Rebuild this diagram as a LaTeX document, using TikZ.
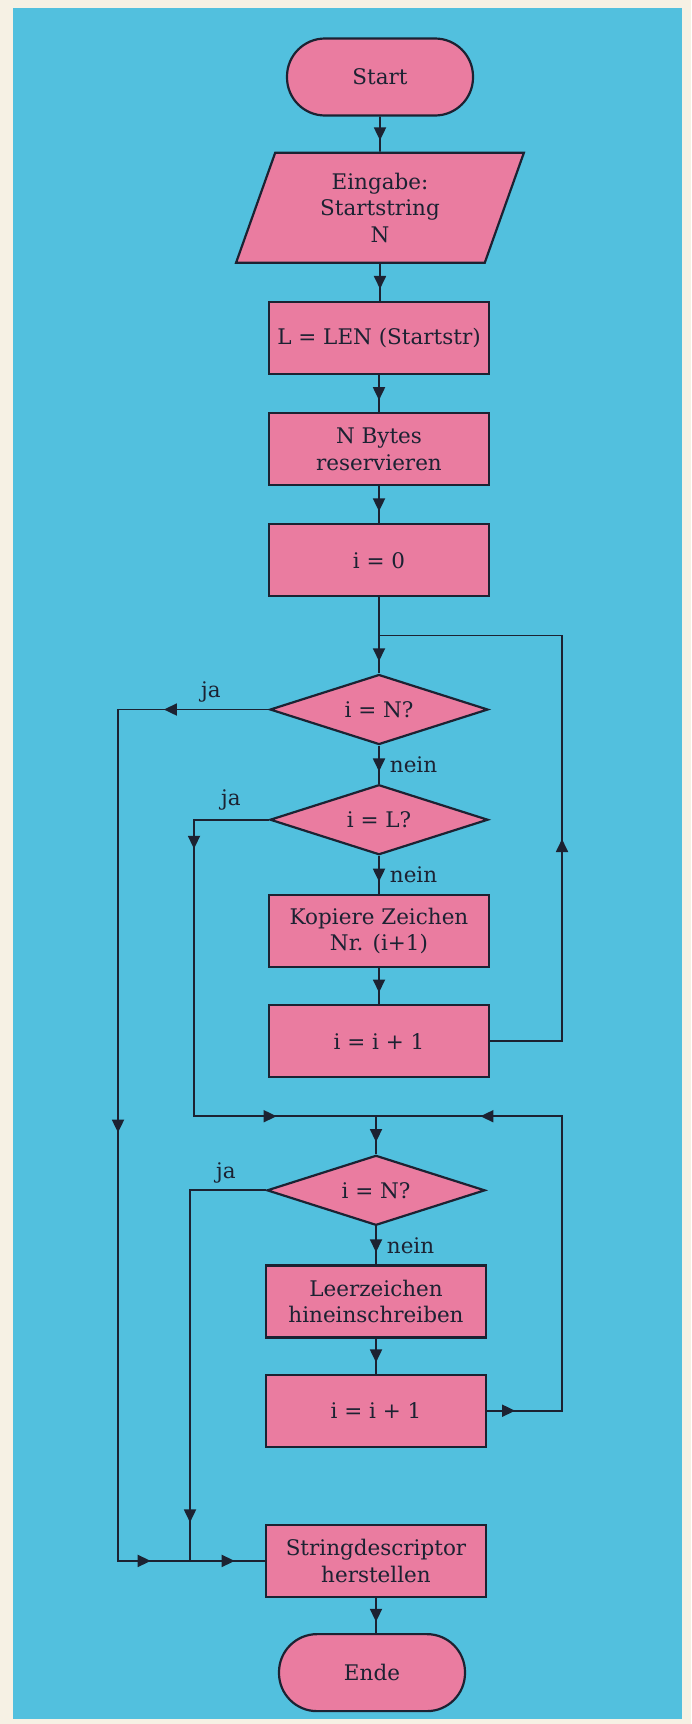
\documentclass[tikz,border=0pt]{standalone}
\usepackage{fontspec}
\setmainfont{DejaVu Serif}
\usepackage{tikz}
\usetikzlibrary{arrows.meta,positioning,calc,shapes.geometric,decorations.markings}
\definecolor{ink}{RGB}{28,34,50}
\definecolor{sky}{RGB}{82,192,222}
\definecolor{rose}{RGB}{234,124,160}
\definecolor{cream}{RGB}{246,241,228}
\tikzset{
  blk/.style={draw=ink,fill=rose,line width=2.2pt,text=ink,align=center,font=\fontsize{21.5}{26.5}\selectfont},
  term/.style={blk,rounded corners=38pt,minimum width=186pt,minimum height=77pt},
  proc/.style={blk,minimum width=220pt,minimum height=72pt,inner sep=4pt},
  io/.style={blk,trapezium,trapezium left angle=72.6,trapezium right angle=107.4,trapezium stretches=true,minimum width=288pt,minimum height=110pt,inner sep=2pt},
  test/.style={blk,diamond,aspect=3,minimum width=218pt,minimum height=70pt,inner sep=0pt},
  lbl/.style={text=ink,inner sep=2pt,font=\fontsize{21.5}{26.5}\selectfont},
  wire/.style={ink,line width=1.8pt},
  tipat/.style={postaction={decorate,decoration={markings,mark=at position #1 with {\arrow{Triangle[length=13pt,width=12pt]}}}}},
  flow/.style={wire,tipat=0.68},
}
\begin{document}
\begin{tikzpicture}[x=1pt,y=-1pt]
\fill[cream] (0,0) rectangle (691,1724);
\fill[sky] (13,8) rectangle (682,1719);
\useasboundingbox (0,0) rectangle (691,1724);
\node[term] (start) at (380,77) {Start};
\node[io,below=35pt of start] (input) {Eingabe:\\Startstring\\N};
\node[proc,below=37pt of input,xshift=-1pt] (len) {L = LEN (Startstr)};
\node[proc,below=37pt of len] (bytes) {N Bytes\\reservieren};
\node[proc,below=37pt of bytes] (izero) {i = 0};
\node[test,below=76pt of izero] (ifN) {i = N?};
\node[test,below=38pt of ifN] (ifL) {i = L?};
\node[proc,below=38pt of ifL] (copy) {Kopiere Zeichen\\Nr. (i+1)};
\node[proc,below=36pt of copy] (incA) {i = i + 1};
\node[test,below=76pt of incA,xshift=-3pt] (ifNb) {i = N?};
\node[proc,below=38pt of ifNb] (blank) {Leerzeichen\\hineinschreiben};
\node[proc,below=35pt of blank] (incB) {i = i + 1};
\node[proc,below=76pt of incB] (desc) {Stringdescriptor\\herstellen};
\node[term,below=35pt of desc,xshift=-4pt] (ende) {Ende};
\coordinate (loopA) at ($(izero.south)!.5!(ifN.north)$);
\coordinate (midB) at ($(incA.south)!.5!(ifNb.north)$);
\coordinate (loopB) at (midB -| ifNb.north);
\coordinate (xl) at (118,0);
\coordinate (xm) at (194,0);
\coordinate (xn) at (190,0);
\coordinate (xr) at (562,0);
\draw[flow] (start) -- (input);
\draw[flow] (input) -- (input |- len.north);
\draw[flow] (len) -- (bytes);
\draw[flow] (bytes) -- (izero);
\draw[wire] (izero) -- (loopA);
\draw[flow] (loopA) -- (ifN);
\draw[flow] (ifN) -- node[lbl,right=8pt]{nein} (ifL);
\draw[flow] (ifL) -- node[lbl,right=8pt]{nein} (copy);
\draw[flow] (copy) -- (incA);
\draw[wire,tipat=274pt] (incA.east) -| (xr |- loopA) -- (loopA);
\draw[wire,tipat=105pt,tipat=574pt,tipat=1035pt,tipat=1119pt] (ifN.west) -| (xl |- desc.west) -- (desc.west);
\draw[wire,tipat=104pt,tipat=454pt] (ifL.west) -| (xm |- loopB) -- (loopB);
\draw[flow] (loopB) -- (ifNb);
\draw[flow] (ifNb) -- node[lbl,right=8pt]{nein} (blank);
\draw[flow] (blank) -- (incB);
\draw[wire,tipat=28pt,tipat=451pt] (incB.east) -| (xr |- loopB) -- (loopB);
\draw[wire,tipat=408pt] (ifNb.west) -| (xn |- desc.west);
\draw[flow] (desc) -- (desc |- ende.north);
\node[lbl] at ($(ifN.west)+(-58,-18)$) {ja};
\node[lbl] at ($(ifL.west)+(-38,-20)$) {ja};
\node[lbl] at ($(ifNb.west)+(-40,-17)$) {ja};
\end{tikzpicture}
\end{document}
